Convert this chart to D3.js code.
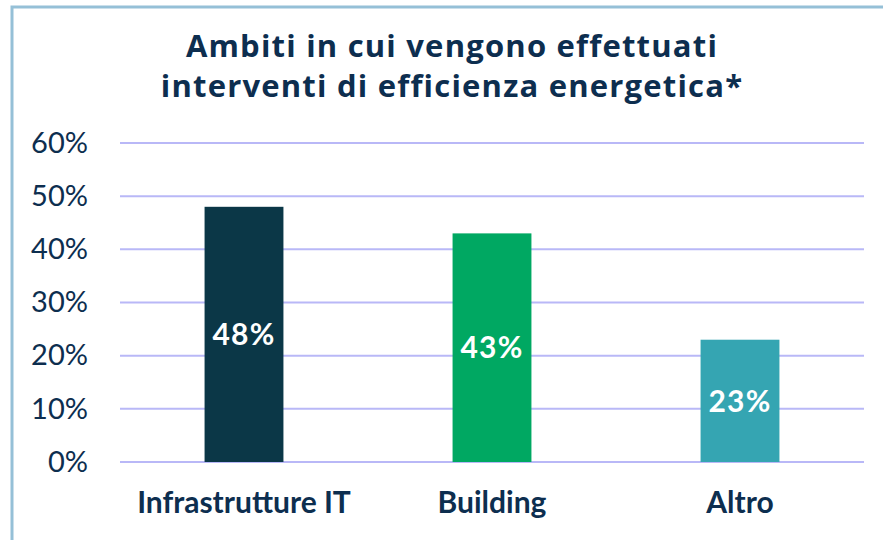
<!DOCTYPE html>
<html>
<head>
<meta charset="utf-8">
<script src="https://cdn.jsdelivr.net/npm/d3@7"></script>
<style>
  html, body { margin: 0; padding: 0; background: #ffffff; }
  svg { display: block; }
</style>
</head>
<body>
<svg id="chart" width="883" height="540"></svg>
<script>
// Chart data
const categories = ["Infrastrutture IT", "Building", "Altro"];
const values = [48, 43, 23];
const barColors = ["#0b3747", "#00a862", "#35a5b2"];
const yTicks = [0, 10, 20, 30, 40, 50, 60];
const titleLines = ["Ambiti in cui vengono effettuati", "interventi di efficienza energetica*"];

const W = 883, H = 540;
const svg = d3.select("#chart");
const navy = "#0d2e4f";

// Frame
svg.append("rect")
  .attr("x", 12).attr("y", 7)
  .attr("width", W).attr("height", H)
  .attr("fill", "none")
  .attr("stroke", "#95c0d7")
  .attr("stroke-width", 3);

// Title
svg.append("text")
  .attr("text-anchor", "middle")
  .attr("font-family", "'Open Sans', 'Noto Sans', sans-serif")
  .attr("font-weight", 700)
  .attr("font-size", 31)
  .attr("letter-spacing", 1.2)
  .attr("fill", navy)
  .selectAll("tspan")
  .data(titleLines)
  .join("tspan")
  .attr("x", 452)
  .attr("y", (d, i) => 57 + i * 40)
  .text(d => d);

// Scales
const x = d3.scaleBand().domain(categories).range([120, 864]).padding(0);
const y = d3.scaleLinear().domain([0, 60]).range([462, 143]);
const barW = x.bandwidth() * 0.318;

// Gridlines
svg.append("g")
  .selectAll("line")
  .data(yTicks)
  .join("line")
  .attr("x1", 120).attr("x2", 864)
  .attr("y1", d => y(d)).attr("y2", d => y(d))
  .attr("stroke", "#b9b8f7")
  .attr("stroke-width", 2);

// Y axis labels
const yAxis = svg.append("g")
  .attr("transform", "translate(120,0)")
  .call(d3.axisLeft(y).tickValues(yTicks).tickFormat(d => d + "%").tickSize(0).tickPadding(32));
yAxis.select(".domain").remove();
yAxis.selectAll("text")
  .attr("font-family", "'Lato', 'Noto Sans', sans-serif")
  .attr("font-size", 29)
  .attr("fill", navy);

// Bars
svg.append("g")
  .selectAll("rect")
  .data(values)
  .join("rect")
  .attr("x", (d, i) => x(categories[i]) + (x.bandwidth() - barW) / 2)
  .attr("y", d => y(d))
  .attr("width", barW)
  .attr("height", d => y(0) - y(d))
  .attr("fill", (d, i) => barColors[i]);

// Value labels
svg.append("g")
  .selectAll("text")
  .data(values)
  .join("text")
  .attr("x", (d, i) => x(categories[i]) + x.bandwidth() / 2)
  .attr("y", d => (y(d) + y(0)) / 2)
  .attr("dy", "0.36em")
  .attr("text-anchor", "middle")
  .attr("font-family", "'Lato', 'Noto Sans', sans-serif")
  .attr("font-weight", 700)
  .attr("font-size", 30)
  .attr("letter-spacing", 1.2)
  .attr("fill", "#ffffff")
  .text(d => d + "%");

// Category labels
const xAxis = svg.append("g")
  .attr("transform", "translate(0,462)")
  .call(d3.axisBottom(x).tickSize(0).tickPadding(30));
xAxis.select(".domain").remove();
xAxis.selectAll("text")
  .attr("font-family", "'Lato', 'Noto Sans', sans-serif")
  .attr("font-weight", 700)
  .attr("font-size", 30)
  .attr("fill", navy);
</script>
</body>
</html>
